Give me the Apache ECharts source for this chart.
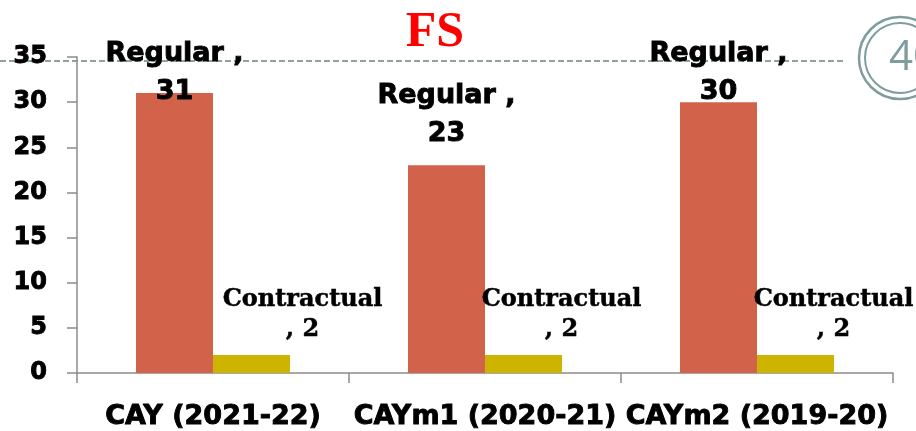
<!DOCTYPE html>
<html>
<head>
<meta charset="utf-8">
<script src="https://cdn.jsdelivr.net/npm/echarts@6/dist/echarts.min.js"></script>
<style>
  html, body { margin: 0; padding: 0; background: #fff; }
  #chart { width: 916px; height: 431px; }
</style>
</head>
<body>
<div id="chart"></div>
<script>
var categories = ['CAY (2021-22)', 'CAYm1 (2020-21)', 'CAYm2 (2019-20)'];
var regular = [31, 23, 30];
var contractual = [2, 2, 2];
var yTicks = [0, 5, 10, 15, 20, 25, 30, 35];

// label nudges, copied from how the slide placed them
var regularOffsets = [[0, 18], [0, -12], [0, 9]];
var contractOffsets = [[51, 0], [38, 0], [38, 0]];

var chart = echarts.init(document.getElementById('chart'));
var axisColor = '#8c8c8c';
// heavy sans, roughly like Arial Black
var heavy = {
  fontFamily: 'DejaVu Sans',
  fontWeight: 'bold',
  color: '#000',
  textBorderColor: '#000',
  textBorderWidth: 0.9
};

var option = {
  animation: false,
  title: {
    text: 'FS',
    left: 430,
    top: 3,
    textAlign: 'center',
    textStyle: {
      fontFamily: 'Liberation Serif',
      fontWeight: 'bold',
      fontSize: 50,
      color: '#ff0000'
    }
  },
  grid: { left: 77, right: 23, top: 57, bottom: 58, containLabel: false },
  xAxis: {
    type: 'category',
    data: categories,
    axisLine: { lineStyle: { color: axisColor, width: 1.5 } },
    axisTick: { show: true, length: 10, lineStyle: { color: axisColor, width: 1.5 } },
    axisLabel: Object.assign({
      interval: 0,
      margin: 30,
      fontSize: 27
    }, heavy)
  },
  yAxis: {
    type: 'value',
    min: yTicks[0],
    max: yTicks[yTicks.length - 1],
    interval: 5,
    splitLine: { show: false },
    axisLine: { show: true, lineStyle: { color: axisColor, width: 1.5 } },
    axisTick: { show: true, length: 10, lineStyle: { color: axisColor, width: 1.5 } },
    axisLabel: Object.assign({
      margin: 30,
      fontSize: 24
    }, heavy)
  },
  series: [
    {
      name: 'Regular',
      type: 'bar',
      barWidth: 77,
      barGap: '0%',
      itemStyle: { color: '#d2634a' },
      data: regular.map(function(v, i) {
        return { value: v, label: { offset: regularOffsets[i] } };
      }),
      label: Object.assign({
        show: true,
        position: 'top',
        distance: 0,
        formatter: function(p) { return 'Regular ,\n' + p.value; },
        fontSize: 27,
        lineHeight: 38
      }, heavy)
    },
    {
      name: 'Contractual',
      type: 'bar',
      barWidth: 77,
      itemStyle: { color: '#ccb400' },
      data: contractual.map(function(v, i) {
        return { value: v, label: { offset: contractOffsets[i] } };
      }),
      label: {
        show: true,
        position: 'top',
        distance: 10,
        formatter: function(p) { return 'Contractual\n, ' + p.value; },
        fontFamily: 'DejaVu Serif',
        fontWeight: 'bold',
        fontSize: 24,
        lineHeight: 30,
        color: '#000',
        textBorderColor: '#000',
        textBorderWidth: 0.5
      }
    }
  ],
  graphic: [
    {
      type: 'line',
      z: 0,
      shape: { x1: 0, y1: 61, x2: 843, y2: 61 },
      style: { stroke: '#8aa4a4', lineWidth: 2, lineDash: [6, 3] }
    },
    {
      type: 'circle',
      shape: { cx: 900, cy: 58, r: 41 },
      style: { fill: 'none', stroke: '#7f9d9d', lineWidth: 2.5 }
    },
    {
      type: 'circle',
      shape: { cx: 900, cy: 58, r: 35 },
      style: { fill: 'none', stroke: '#7f9d9d', lineWidth: 2 }
    },
    {
      type: 'text',
      x: 889,
      y: 58,
      style: {
        text: '40',
        fill: '#7f9d9d',
        font: '42px "Open Sans"',
        textVerticalAlign: 'middle',
        textAlign: 'left'
      }
    }
  ]
};

chart.setOption(option);
</script>
</body>
</html>
